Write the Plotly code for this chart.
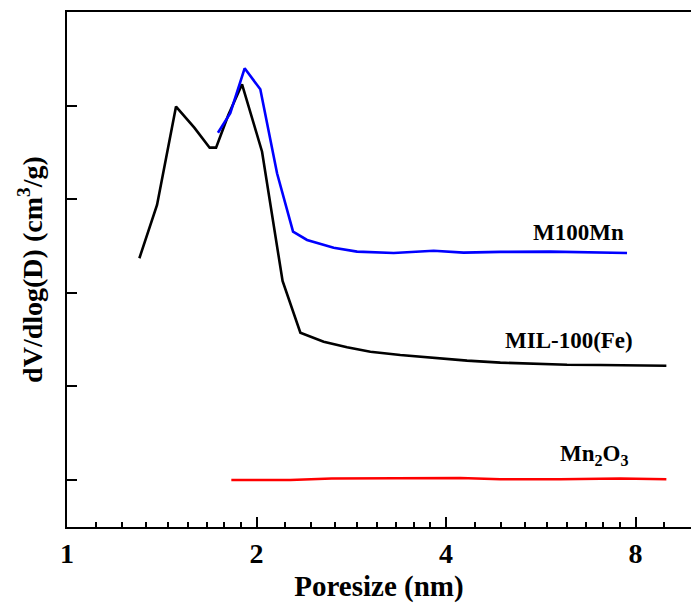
import plotly.graph_objects as go
import math

# MIL-100(Fe)
mil_x = [1.303, 1.390, 1.490, 1.593, 1.685, 1.725, 1.804, 1.897, 2.041, 2.200, 2.348,
         2.557, 2.785, 3.033, 3.384, 3.777, 4.319, 4.879, 5.511, 6.227, 7.034, 8.955]
mil_y = [3.371, 3.941, 4.993, 4.768, 4.554, 4.554, 4.904, 5.232, 4.511, 3.128, 2.575,
         2.479, 2.419, 2.372, 2.337, 2.308, 2.276, 2.255, 2.241, 2.233, 2.230, 2.222]

# M100Mn
mn_x = [1.737, 1.817, 1.915, 2.028, 2.156, 2.286, 2.406, 2.652, 2.889, 3.303, 3.823,
        4.266, 4.879, 5.857, 7.755]
mn_y = [4.714, 4.922, 5.403, 5.179, 4.280, 3.656, 3.567, 3.484, 3.442, 3.428, 3.452,
        3.431, 3.439, 3.442, 3.428]

# Mn2O3
ox_x = [1.824, 2.263, 2.633, 3.384, 4.215, 4.879, 6.075, 7.568, 8.955]
ox_y = [1.000, 1.000, 1.016, 1.021, 1.021, 1.007, 1.007, 1.016, 1.007]

x_ticks = [1, 2, 4, 8]
y_ticks = [1, 2, 3, 4, 5]

labels = ["M100Mn", "MIL-100(Fe)", "Mn<sub>2</sub>O<sub>3</sub>"]
label_x = [6.49, 6.27, 6.88]
label_y = [3.652, 2.497, 1.267]

FONT = "Liberation Serif"

fig = go.Figure()
fig.add_trace(go.Scatter(x=mil_x, y=mil_y, mode="lines", line=dict(color="black", width=2.6), showlegend=False))
fig.add_trace(go.Scatter(x=mn_x, y=mn_y, mode="lines", line=dict(color="#0000FF", width=2.6), showlegend=False))
fig.add_trace(go.Scatter(x=ox_x, y=ox_y, mode="lines", line=dict(color="#FF0000", width=2.6), showlegend=False))

for t, lx, ly in zip(labels, label_x, label_y):
    fig.add_annotation(x=math.log10(lx), y=ly, xref="x", yref="y", text=t, showarrow=False,
                       font=dict(family=FONT, size=23, color="black", weight="bold"),
                       xanchor="center", yanchor="middle")

# minor ticks: 8 linear subdivisions per octave
minor_vals = []
for b in x_ticks:
    for k in range(1, 9):
        minor_vals.append(b + b * k / 9)

fig.update_layout(
    width=691, height=615,
    margin=dict(l=67, r=0, t=12, b=88),
    plot_bgcolor="white", paper_bgcolor="white",
    font=dict(family=FONT, color="black"),
    xaxis=dict(type="log", range=[0, 0.9912], tickmode="array", tickvals=x_ticks,
               ticktext=[str(v) for v in x_ticks], ticks="inside", ticklen=10, tickwidth=2,
               tickcolor="black", showline=True, linecolor="black", linewidth=2, mirror=True,
               showgrid=False, zeroline=False,
               tickfont=dict(family=FONT, size=28, color="black", weight="bold"),
               minor=dict(tickmode="array", tickvals=minor_vals, ticks="inside", ticklen=5,
                          tickwidth=2, tickcolor="black", showgrid=False),
               title=dict(text="Poresize (nm)", standoff=8,
                          font=dict(family=FONT, size=29, color="black", weight="bold"))),
    yaxis=dict(range=[0.497, 6.005], tickmode="array", tickvals=y_ticks, showticklabels=False,
               ticks="inside", ticklen=10, tickwidth=2, tickcolor="black",
               showline=True, linecolor="black", linewidth=2, showgrid=False, zeroline=False,
               title=dict(text="dV/dlog(D) (cm<sup>3</sup>/g)", standoff=14,
                          font=dict(family=FONT, size=28, color="black", weight="bold"))),
)

fig.write_html("out.html")
